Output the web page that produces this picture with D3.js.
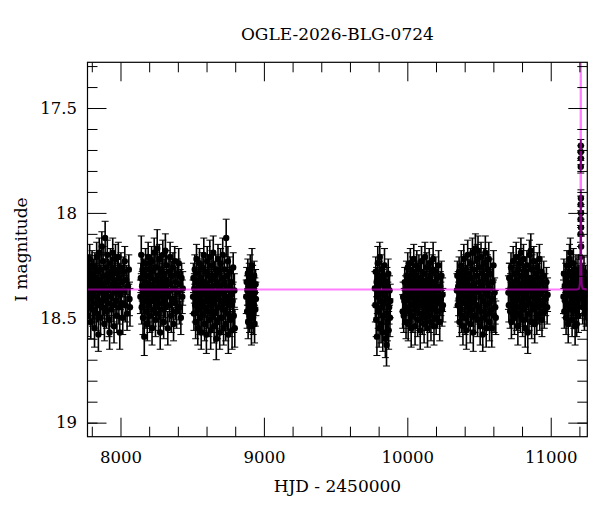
<!DOCTYPE html>
<meta charset="utf-8">
<style>
  body { margin: 0; background: #fff; }
  text { font-family: "DejaVu Serif", serif; fill: #000; }
</style>
<svg width="600" height="512"></svg>
<script src="https://d3js.org/d3.v7.min.js"></script>
<script>

// photometry per season: [HJD-2450000, I mag, error]
var s2017 = [[7771,18.49,.10],[7774,18.33,.07],[7777,18.41,.08],[7779,18.27,.07],[7782,18.38,.07],[7785,18.22,.07],[7788,18.45,.08],[7790,18.34,.07],[7793,18.52,.08],[7796,18.30,.07],
  [7799,18.39,.07],[7802,18.25,.07],[7805,18.46,.08],[7808,18.36,.07],[7811,18.29,.07],[7813,18.43,.08],[7816,18.33,.07],[7819,18.55,.09],[7822,18.26,.07],[7825,18.40,.07],
  [7828,18.31,.07],[7831,18.48,.08],[7834,18.21,.07],[7837,18.37,.07],[7840,18.44,.08],[7843,18.28,.07],[7846,18.58,.08],[7849,18.35,.07],[7852,18.19,.07],[7855,18.42,.08],
  [7858,18.32,.07],[7861,18.50,.08],[7864,18.27,.07],[7867,18.38,.07],[7870,18.16,.07],[7873,18.45,.08],[7876,18.34,.07],[7879,18.23,.07],[7882,18.41,.08],[7885,18.30,.07],
  [7888,18.53,.08],[7891,18.36,.07],[7893,18.12,.08],[7896,18.39,.07],[7899,18.26,.07],[7902,18.47,.08],[7905,18.33,.07],[7908,18.20,.07],[7911,18.43,.08],[7914,18.29,.07],
  [7917,18.37,.07],[7920,18.51,.08],[7924,18.57,.08],[7927,18.31,.07],[7930,18.24,.07],[7933,18.40,.07],[7936,18.46,.08],[7939,18.28,.07],[7942,18.35,.07],[7946,18.19,.07],
  [7949,18.44,.08],[7952,18.32,.07],[7955,18.54,.08],[7958,18.27,.07],[7962,18.38,.07],[7965,18.22,.07],[7968,18.42,.08],[7972,18.34,.07],[7975,18.49,.08],[7978,18.29,.07],
  [7982,18.36,.07],[7985,18.21,.07],[7989,18.45,.08],[7992,18.31,.07],[7995,18.57,.08],[7999,18.39,.07],[8003,18.26,.07],[8007,18.43,.08],[8011,18.33,.07],[8016,18.50,.08],
  [8020,18.28,.07],[8025,18.37,.07],[8030,18.23,.07],[8035,18.44,.08],[8040,18.32,.07],[8046,18.48,.08],[8052,18.35,.07],[8058,18.27,.07],[8063,18.41,.08],[8066,18.45,.09]];

var s2018 = [[8139,18.40,.08],[8142,18.31,.07],[8145,18.20,.09],[8148,18.45,.08],[8151,18.35,.07],[8154,18.27,.07],[8157,18.50,.08],[8160,18.38,.07],[8163,18.29,.07],[8166,18.59,.09],
  [8169,18.42,.08],[8172,18.33,.07],[8175,18.24,.07],[8178,18.47,.08],[8181,18.36,.07],[8184,18.30,.07],[8187,18.53,.08],[8190,18.39,.07],[8193,18.21,.07],[8196,18.44,.08],
  [8199,18.34,.07],[8202,18.27,.07],[8205,18.49,.08],[8208,18.37,.07],[8211,18.31,.07],[8214,18.42,.08],[8217,18.23,.07],[8220,18.55,.08],[8223,18.35,.07],[8226,18.28,.07],
  [8229,18.46,.08],[8232,18.38,.07],[8235,18.19,.07],[8238,18.41,.08],[8241,18.32,.07],[8244,18.51,.08],[8247,18.26,.07],[8250,18.36,.07],[8253,18.44,.08],[8256,18.17,.09],
  [8259,18.39,.07],[8262,18.30,.07],[8265,18.48,.08],[8268,18.34,.07],[8271,18.22,.07],[8274,18.43,.08],[8277,18.57,.08],[8280,18.33,.07],[8283,18.27,.07],[8286,18.40,.07],
  [8289,18.46,.08],[8292,18.31,.07],[8295,18.20,.07],[8298,18.37,.07],[8301,18.52,.08],[8304,18.29,.07],[8307,18.42,.08],[8310,18.35,.07],[8313,18.18,.08],[8316,18.45,.08],
  [8319,18.32,.07],[8322,18.25,.07],[8326,18.39,.07],[8330,18.55,.08],[8334,18.34,.07],[8338,18.28,.07],[8342,18.44,.08],[8346,18.21,.07],[8350,18.37,.07],[8354,18.49,.08],
  [8358,18.30,.07],[8362,18.41,.08],[8366,18.26,.07],[8370,18.53,.08],[8374,18.36,.07],[8378,18.23,.07],[8382,18.43,.08],[8386,18.33,.07],[8391,18.47,.08],[8396,18.29,.07],
  [8401,18.38,.07],[8406,18.24,.07],[8411,18.45,.08],[8416,18.34,.07],[8421,18.50,.08],[8426,18.31,.07],[8431,18.40,.08],[8434,18.36,.08]];

var s2019 = [[8506,18.40,.08],[8509,18.31,.07],[8512,18.48,.08],[8515,18.36,.07],[8518,18.27,.07],[8521,18.44,.08],[8524,18.52,.08],[8527,18.33,.07],[8530,18.22,.07],[8533,18.41,.08],
  [8536,18.38,.07],[8539,18.55,.08],[8542,18.29,.07],[8545,18.46,.08],[8548,18.35,.07],[8551,18.24,.07],[8554,18.50,.08],[8557,18.39,.07],[8560,18.31,.07],[8563,18.57,.08],
  [8566,18.43,.08],[8569,18.26,.07],[8572,18.37,.07],[8575,18.48,.08],[8578,18.33,.07],[8581,18.20,.08],[8584,18.45,.08],[8587,18.53,.08],[8590,18.36,.07],[8593,18.28,.07],
  [8596,18.42,.08],[8599,18.58,.09],[8602,18.34,.07],[8605,18.23,.07],[8608,18.47,.08],[8611,18.39,.07],[8614,18.30,.07],[8617,18.51,.08],[8620,18.37,.07],[8623,18.21,.08],
  [8626,18.44,.08],[8629,18.56,.09],[8632,18.32,.07],[8635,18.40,.08],[8638,18.25,.07],[8641,18.49,.08],[8644,18.35,.07],[8647,18.19,.08],[8650,18.43,.08],[8653,18.54,.08],
  [8656,18.30,.07],[8659,18.38,.07],[8662,18.47,.08],[8665,18.27,.07],[8668,18.60,.10],[8671,18.41,.08],[8674,18.33,.07],[8677,18.52,.08],[8680,18.22,.07],[8683,18.39,.07],
  [8686,18.45,.08],[8689,18.29,.07],[8692,18.57,.08],[8695,18.36,.07],[8698,18.24,.07],[8701,18.42,.08],[8704,18.50,.08],[8707,18.31,.07],[8710,18.38,.07],[8713,18.20,.08],
  [8716,18.46,.08],[8719,18.55,.08],[8722,18.34,.07],[8725,18.27,.07],[8728,18.43,.08],[8731,18.37,.07],[8734,18.53,.08],[8737,18.12,.09],[8740,18.40,.08],[8743,18.30,.07],
  [8746,18.48,.08],[8749,18.23,.07],[8752,18.58,.09],[8755,18.36,.07],[8758,18.44,.08],[8762,18.28,.07],[8766,18.51,.08],[8770,18.39,.07],[8774,18.33,.07],[8778,18.56,.09],
  [8782,18.42,.08],[8786,18.26,.07],[8790,18.49,.08],[8794,18.37,.08],[8797,18.55,.09]];

var s2020 = [[8877,18.40,.08],[8880,18.33,.07],[8883,18.47,.08],[8885,18.37,.07],[8888,18.29,.07],[8890,18.52,.08],[8893,18.35,.07],[8895,18.43,.08],[8898,18.31,.07],[8900,18.49,.08],
  [8903,18.38,.07],[8905,18.27,.07],[8908,18.45,.08],[8910,18.34,.07],[8913,18.54,.09],[8915,18.39,.07],[8917,18.25,.08],[8920,18.42,.08],[8922,18.32,.07],[8925,18.50,.08],
  [8927,18.36,.07],[8930,18.44,.08],[8932,18.30,.07],[8935,18.53,.09],[8937,18.38,.07],[8940,18.46,.08],[8942,18.34,.07],[8944,18.41,.08]];

var s2022 = [[9774,18.36,.08],[9777,18.44,.08],[9780,18.28,.07],[9783,18.51,.08],[9786,18.33,.07],[9788,18.59,.09],[9791,18.40,.08],[9794,18.24,.08],[9797,18.47,.08],[9800,18.35,.07],
  [9803,18.55,.09],[9806,18.30,.07],[9808,18.21,.07],[9811,18.42,.08],[9814,18.38,.07],[9817,18.53,.09],[9820,18.27,.07],[9823,18.45,.08],[9826,18.34,.07],[9829,18.57,.09],
  [9832,18.31,.07],[9835,18.49,.08],[9838,18.39,.07],[9841,18.25,.08],[9844,18.43,.08],[9847,18.60,.09],[9850,18.36,.07],[9853,18.48,.08],[9855,18.63,.10],[9858,18.33,.07],
  [9861,18.52,.09],[9864,18.41,.08],[9867,18.29,.07],[9870,18.56,.09],[9873,18.45,.08],[9876,18.37,.07],[9879,18.50,.09],[9881,18.42,.08]];

var s2023 = [[9968,18.47,.08],[9971,18.40,.07],[9975,18.49,.08],[9979,18.42,.06],[9982,18.33,.07],[9985,18.45,.08],[9988,18.37,.07],[9991,18.52,.08],[9994,18.30,.07],[9997,18.41,.08],
  [10000,18.36,.07],[10003,18.26,.07],[10006,18.53,.08],[10009,18.39,.07],[10012,18.31,.07],[10015,18.47,.08],[10018,18.35,.07],[10021,18.24,.07],[10024,18.44,.08],[10027,18.55,.09],
  [10030,18.33,.07],[10033,18.40,.07],[10036,18.28,.07],[10039,18.49,.08],[10042,18.37,.07],[10045,18.22,.07],[10048,18.43,.08],[10051,18.34,.07],[10054,18.54,.09],[10057,18.30,.07],
  [10060,18.46,.08],[10063,18.38,.07],[10066,18.25,.07],[10069,18.41,.08],[10072,18.51,.08],[10075,18.33,.07],[10078,18.36,.07],[10081,18.27,.07],[10084,18.48,.08],[10087,18.39,.07],
  [10090,18.56,.09],[10093,18.31,.07],[10096,18.44,.08],[10099,18.23,.07],[10102,18.37,.07],[10105,18.50,.08],[10108,18.34,.07],[10111,18.42,.08],[10114,18.29,.07],[10117,18.53,.09],
  [10120,18.38,.07],[10123,18.21,.07],[10126,18.45,.08],[10129,18.35,.07],[10132,18.48,.08],[10135,18.26,.07],[10138,18.40,.07],[10141,18.55,.09],[10144,18.32,.07],[10147,18.43,.08],
  [10150,18.36,.07],[10153,18.24,.07],[10156,18.49,.08],[10159,18.38,.07],[10162,18.30,.07],[10165,18.52,.09],[10168,18.41,.08],[10171,18.34,.07],[10174,18.27,.07],[10177,18.46,.08],
  [10180,18.22,.08],[10183,18.39,.07],[10186,18.54,.09],[10189,18.33,.07],[10192,18.44,.08],[10195,18.36,.07],[10198,18.28,.07],[10201,18.50,.08],[10204,18.40,.07],[10207,18.31,.07],
  [10210,18.47,.08],[10214,18.37,.07],[10218,18.25,.07],[10222,18.43,.08],[10226,18.52,.09],[10230,18.35,.07],[10234,18.41,.08],[10238,18.30,.07],[10242,18.46,.08],[10246,18.39,.08],
  [10248,18.44,.08]];

var s2024 = [[10346,18.37,.08],[10349,18.30,.07],[10352,18.44,.08],[10355,18.35,.07],[10358,18.41,.08],[10361,18.28,.07],[10364,18.52,.07],[10367,18.38,.07],[10370,18.46,.08],[10373,18.33,.07],
  [10376,18.25,.07],[10379,18.49,.08],[10382,18.39,.07],[10385,18.31,.07],[10388,18.54,.09],[10391,18.36,.07],[10394,18.22,.07],[10397,18.43,.08],[10400,18.34,.07],[10403,18.50,.08],
  [10406,18.27,.07],[10409,18.40,.08],[10412,18.56,.09],[10415,18.32,.07],[10418,18.45,.08],[10421,18.20,.07],[10424,18.37,.07],[10427,18.48,.08],[10430,18.29,.07],[10433,18.42,.08],
  [10436,18.35,.07],[10439,18.53,.09],[10442,18.24,.07],[10445,18.39,.07],[10448,18.46,.08],[10451,18.31,.07],[10454,18.19,.07],[10457,18.43,.08],[10460,18.57,.09],[10463,18.34,.07],
  [10466,18.27,.07],[10469,18.41,.08],[10472,18.49,.08],[10475,18.17,.07],[10478,18.36,.07],[10481,18.44,.08],[10484,18.30,.07],[10487,18.22,.07],[10490,18.51,.08],[10493,18.18,.07],
  [10496,18.38,.07],[10499,18.45,.08],[10502,18.26,.07],[10505,18.33,.07],[10508,18.54,.09],[10511,18.40,.08],[10514,18.21,.07],[10517,18.47,.08],[10520,18.35,.07],[10523,18.29,.07],
  [10526,18.58,.08],[10529,18.42,.08],[10532,18.32,.07],[10535,18.24,.07],[10538,18.50,.08],[10541,18.37,.07],[10544,18.19,.08],[10547,18.44,.08],[10550,18.55,.09],[10553,18.30,.07],
  [10556,18.39,.07],[10559,18.27,.07],[10562,18.48,.08],[10565,18.34,.07],[10568,18.22,.08],[10571,18.43,.08],[10574,18.52,.09],[10577,18.36,.07],[10581,18.29,.07],[10585,18.46,.08],
  [10589,18.55,.09],[10593,18.33,.07],[10597,18.41,.08],[10601,18.25,.07],[10605,18.49,.08],[10609,18.38,.07],[10613,18.45,.08],[10617,18.50,.08]];

var s2025 = [[10705,18.38,.08],[10708,18.44,.08],[10711,18.31,.07],[10714,18.31,.07],[10717,18.47,.08],[10720,18.36,.07],[10723,18.26,.07],[10726,18.52,.08],[10729,18.39,.07],[10732,18.33,.07],
  [10735,18.45,.08],[10738,18.23,.07],[10741,18.41,.08],[10744,18.35,.07],[10747,18.50,.08],[10750,18.29,.07],[10753,18.43,.08],[10756,18.37,.07],[10759,18.21,.07],[10762,18.48,.08],
  [10765,18.32,.07],[10768,18.40,.07],[10771,18.54,.09],[10774,18.27,.07],[10777,18.36,.07],[10780,18.45,.08],[10783,18.24,.07],[10786,18.38,.07],[10789,18.49,.08],[10792,18.19,.07],
  [10795,18.34,.07],[10798,18.42,.08],[10801,18.30,.07],[10804,18.51,.08],[10807,18.37,.07],[10810,18.22,.07],[10813,18.46,.08],[10816,18.33,.07],[10819,18.40,.07],[10822,18.55,.09],
  [10825,18.28,.07],[10828,18.39,.07],[10831,18.44,.08],[10834,18.25,.07],[10837,18.35,.07],[10840,18.57,.10],[10843,18.41,.08],[10846,18.31,.07],[10849,18.48,.08],[10852,18.20,.07],
  [10855,18.37,.07],[10858,18.43,.08],[10861,18.18,.08],[10864,18.34,.07],[10867,18.52,.08],[10870,18.27,.07],[10873,18.40,.07],[10876,18.46,.08],[10879,18.32,.07],[10882,18.23,.07],
  [10885,18.38,.07],[10888,18.53,.09],[10891,18.35,.07],[10894,18.44,.08],[10897,18.29,.07],[10900,18.41,.08],[10903,18.50,.08],[10906,18.26,.07],[10909,18.36,.07],[10912,18.45,.08],
  [10915,18.31,.07],[10918,18.39,.07],[10921,18.22,.07],[10924,18.48,.08],[10927,18.34,.07],[10931,18.42,.08],[10935,18.28,.07],[10939,18.51,.08],[10943,18.37,.07],[10947,18.44,.08],
  [10951,18.30,.07],[10955,18.47,.08],[10960,18.36,.07],[10965,18.41,.08],[10970,18.33,.07],[10975,18.45,.08],[10978,18.39,.08]];

var s2026 = [[11089,18.40,.08],[11092,18.29,.07],[11095,18.47,.08],[11098,18.35,.07],[11101,18.42,.08],[11104,18.31,.07],[11107,18.50,.08],[11110,18.37,.07],[11113,18.25,.07],[11116,18.44,.08],
  [11119,18.34,.07],[11122,18.53,.09],[11125,18.30,.07],[11128,18.39,.07],[11131,18.22,.07],[11134,18.46,.08],[11137,18.19,.07],[11140,18.36,.07],[11143,18.43,.08],[11146,18.28,.07],
  [11149,18.51,.08],[11152,18.33,.07],[11155,18.41,.08],[11158,18.24,.07],[11161,18.47,.08],[11164,18.37,.07],[11167,18.31,.07],[11170,18.54,.09],[11173,18.39,.07],[11176,18.27,.07],
  [11179,18.45,.08],[11181,18.53,.06],[11184,18.34,.07],[11187,18.42,.08],[11190,18.29,.07],[11193,18.49,.08],[11196,18.36,.07],[11199,18.40,.08],[11202,18.33,.07],[11204,18.37,.07],
  [11217,18.38,.07],[11220,18.31,.07],[11223,18.45,.08],[11226,18.35,.07],[11229,18.41,.08],[11232,18.28,.07],[11235,18.48,.08],[11238,18.36,.07],[11241,18.43,.08],[11244,18.32,.07],
  [11247,18.46,.08],[11250,18.39,.07],[11253,18.35,.07]];

// the event itself
var peak2026 = [[11206,18.30,.05],[11207,18.21,.05],[11208,18.10,.04],[11208.5,18.03,.04],[11209,17.96,.04],[11209.4,17.78,.03],
  [11209.7,17.71,.03],[11210,17.68,.03],[11210.3,17.74,.03],[11210.6,17.93,.04],[11211,18.00,.04],[11211.5,18.07,.04],
  [11212,18.16,.05],[11213,18.26,.05],[11214,18.33,.06]];

// model curve
var modelT = [7770, 11180, 11195, 11201, 11204, 11206, 11207.5, 11208.3, 11208.9, 11210.1, 11210.7, 11211.5, 11213, 11215, 11218, 11224, 11255];
var modelM = [18.365, 18.365, 18.362, 18.35, 18.32, 18.22, 17.95, 17.6, 17.2, 17.2, 17.6, 17.95, 18.22, 18.32, 18.35, 18.362, 18.365];

var xMajor = [8000, 9000, 10000, 11000],
    xMinor = [7800, 8200, 8400, 8600, 8800, 9200, 9400, 9600, 9800, 10200, 10400, 10600, 10800, 11200],
    yMajor = [17.5, 18, 18.5, 19],
    yMinor = [17.3, 17.4, 17.6, 17.7, 17.8, 17.9, 18.1, 18.2, 18.3, 18.4, 18.6, 18.7, 18.8, 18.9, 19.0];

var svg = d3.select("svg"),
    pLeft = 87.5, pRight = 587.3, pTop = 62.3, pBottom = 436.7;

var x = d3.scaleLinear().domain([7770, 11255]).range([pLeft, pRight]),
    y = d3.scaleLinear().domain([17.282, 19.067]).range([pTop, pBottom]);

svg.append("clipPath").attr("id", "clip")
  .append("rect").attr("x", pLeft).attr("y", pTop).attr("width", pRight - pLeft).attr("height", pBottom - pTop);

var plot = svg.append("g").attr("clip-path", "url(#clip)");

var allPoints = [].concat(s2017, s2018, s2019, s2020, s2022, s2023, s2024, s2025, s2026, peak2026);

var pts = plot.append("g").attr("stroke", "#000").attr("fill", "#000")
  .selectAll("g").data(allPoints).enter().append("g");

// error bars
pts.append("line")
    .attr("stroke-width", 1.6)
    .attr("x1", function(d) { return x(d[0]); })
    .attr("x2", function(d) { return x(d[0]); })
    .attr("y1", function(d) { return y(d[1] - d[2]); })
    .attr("y2", function(d) { return y(d[1] + d[2]); });
pts.append("path")
    .attr("stroke-width", 1)
    .attr("d", function(d) {
      var cx = x(d[0]), a = y(d[1] - d[2]), b = y(d[1] + d[2]);
      return "M" + (cx - 3.5) + "," + a + "h7M" + (cx - 3.5) + "," + b + "h7";
    });
pts.append("circle")
    .attr("stroke", "none")
    .attr("cx", function(d) { return x(d[0]); })
    .attr("cy", function(d) { return y(d[1]); })
    .attr("r", 3.2);

var line = d3.line()
    .x(function(d, i) { return x(modelT[i]); })
    .y(function(d) { return y(d); })
    .curve(d3.curveMonotoneX);

plot.append("path")
    .datum(modelM)
    .attr("d", line)
    .attr("fill", "none")
    .attr("stroke", "#ff00ff")
    .attr("stroke-opacity", 0.5)
    .attr("stroke-width", 2);

// axes, ticks inward on all four sides
function ticks(axis, g, len, labels) {
  axis.tickSizeInner(-len).tickSizeOuter(0);
  if (!labels) axis.tickFormat("");
  g.call(axis);
  g.attr("font-family", null).attr("font-size", null);
  g.select(".domain").remove();
  g.selectAll("line").attr("stroke", "#000");
  g.selectAll("text").attr("fill", "#000")
    .style("font-family", "'DejaVu Serif', serif").style("font-size", "16.5px");
}

var gb = svg.append("g").attr("transform", "translate(0," + pBottom + ")"),
    gt = svg.append("g").attr("transform", "translate(0," + pTop + ")"),
    gl = svg.append("g").attr("transform", "translate(" + pLeft + ",0)"),
    gr = svg.append("g").attr("transform", "translate(" + pRight + ",0)");

ticks(d3.axisBottom(x).tickValues(xMajor).tickPadding(14.5).tickFormat(d3.format("d")), gb.append("g"), 19, true);
ticks(d3.axisBottom(x).tickValues(xMinor), gb.append("g"), 10, false);
ticks(d3.axisTop(x).tickValues(xMajor), gt.append("g"), 19, false);
ticks(d3.axisTop(x).tickValues(xMinor), gt.append("g"), 10, false);
ticks(d3.axisLeft(y).tickValues(yMajor).tickPadding(10.5).tickFormat(function(d) { return String(d); }), gl.append("g"), 19, true);
ticks(d3.axisLeft(y).tickValues(yMinor), gl.append("g"), 10, false);
ticks(d3.axisRight(y).tickValues(yMajor), gr.append("g"), 19, false);
ticks(d3.axisRight(y).tickValues(yMinor), gr.append("g"), 10, false);

svg.append("rect")
    .attr("x", pLeft).attr("y", pTop)
    .attr("width", pRight - pLeft).attr("height", pBottom - pTop)
    .attr("fill", "none").attr("stroke", "#000").attr("stroke-width", 1.2);

svg.append("text")
    .attr("x", (pLeft + pRight) / 2).attr("y", 40)
    .attr("text-anchor", "middle")
    .style("font-size", "17px")
    .text("OGLE-2026-BLG-0724");

svg.append("text")
    .attr("x", (pLeft + pRight) / 2).attr("y", 492)
    .attr("text-anchor", "middle")
    .style("font-size", "17px")
    .text("HJD - 2450000");

svg.append("text")
    .attr("transform", "translate(27," + (pTop + pBottom) / 2 + ") rotate(-90)")
    .attr("text-anchor", "middle")
    .style("font-size", "17px")
    .text("I magnitude");

</script>
